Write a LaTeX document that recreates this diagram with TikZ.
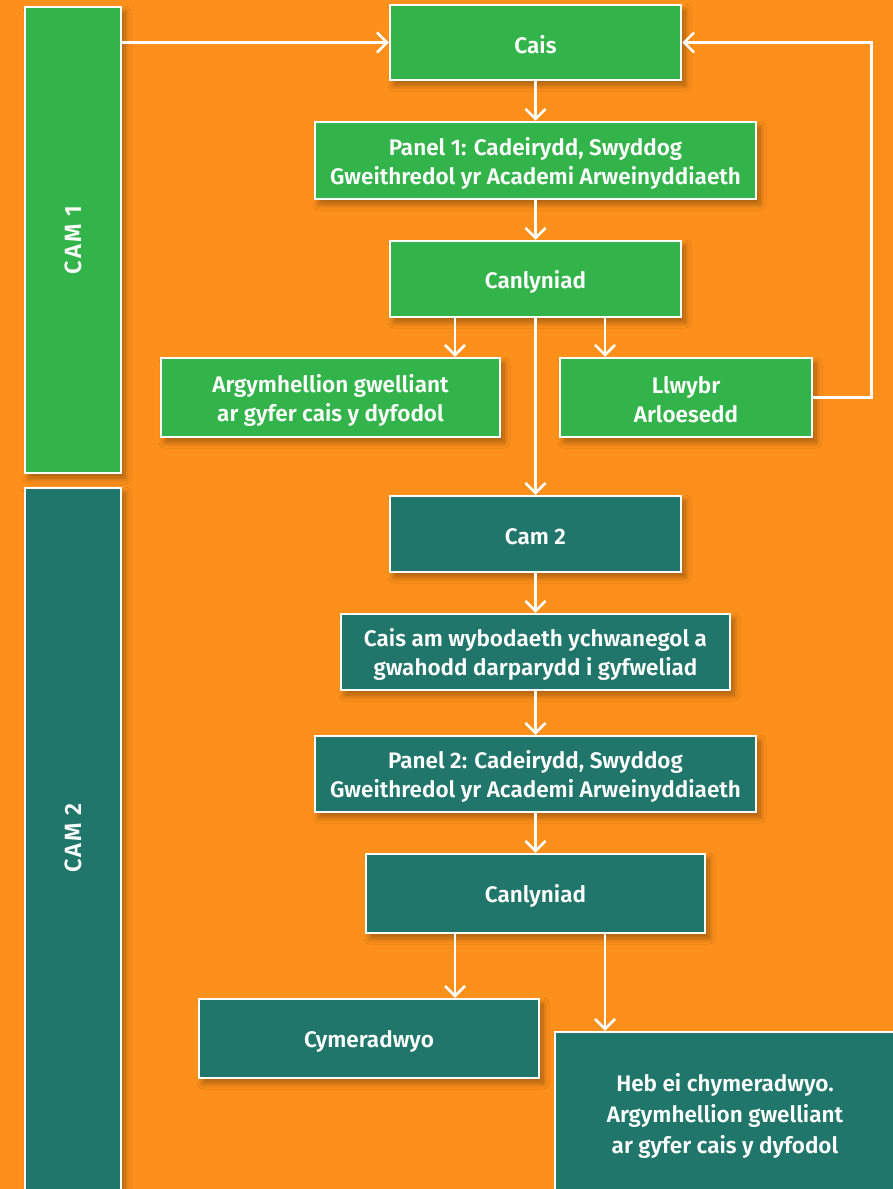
\documentclass[tikz,border=0pt]{standalone}
\usepackage{fontspec}
\setmainfont{Fira Sans SemiBold}
\usetikzlibrary{arrows.meta,shadows.blur}
\definecolor{bg}{RGB}{253,144,26}
\definecolor{gr}{RGB}{51,180,74}
\definecolor{tl}{RGB}{32,118,106}
\tikzset{
  bx/.style={draw=white,line width=2.5pt,inner sep=0pt,
    blur shadow={shadow xshift=4pt,shadow yshift=-5pt,shadow blur steps=10,shadow opacity=35,shadow blur radius=6pt}},
  grbox/.style={bx,fill=gr},
  tlbox/.style={bx,fill=tl},
  txt/.style={text=white,align=center,inner sep=0pt,font=\fontsize{22.5}{29}\selectfont},
  arr/.style={draw=white,line width=2.5pt,-{Straight Barb[length=10pt,width=20pt,line width=2.5pt]}},
  camtext/.style={rotate=90,text=white,font=\fontsize{23.5}{26}\selectfont\addfontfeature{LetterSpace=9}}
}
\begin{document}
\begin{tikzpicture}[x=1pt,y=-1pt]
\fill[bg] (0,0) rectangle (893,1189);
\useasboundingbox (0,0) rectangle (893,1189);
\clip (0,0) rectangle (893,1189);
% side bars
\node[grbox,minimum width=96pt,minimum height=466pt] (cam1) at (73,240) {};
\node[camtext] (cam1t) at (cam1) {CAM 1};
\node[tlbox,minimum width=96pt,minimum height=740pt] (cam2) at (73,858) {};
\node[camtext] (cam2t) at (73,838) {CAM 2};
% stage 1
\node[grbox,minimum width=291pt,minimum height=75pt] (cais) at (535.5,42.5) {};
\node[txt] (caist) at ([yshift=-2.5pt]cais) {Cais};
\node[grbox,minimum width=441pt,minimum height=77pt] (p1) at (535.5,160.5) {};
\node[txt] (p1t) at ([yshift=-2.5pt]p1) {Panel 1: Cadeirydd, Swyddog\\Gweithredol yr Academi Arweinyddiaeth};
\node[grbox,minimum width=291pt,minimum height=76pt] (can1) at (535.5,279) {};
\node[txt] (can1t) at ([yshift=-2.5pt]can1) {Canlyniad};
\node[grbox,minimum width=339pt,minimum height=79pt] (arg) at (330.5,397.5) {};
\node[txt] (argt) at ([yshift=-2.5pt]arg) {Argymhellion gwelliant\\ar gyfer cais y dyfodol};
\node[grbox,minimum width=252pt,minimum height=79pt] (ll) at (686,397.5) {};
\node[txt] (llt) at ([yshift=-2.5pt]ll) {Llwybr\\Arloesedd};
% stage 2
\node[tlbox,minimum width=291pt,minimum height=76pt] (c2) at (535.5,534) {};
\node[txt] (c2t) at ([yshift=-2.5pt]c2) {Cam 2};
\node[tlbox,minimum width=389pt,minimum height=76pt] (cam) at (535.5,652) {};
\node[txt] (camt) at ([yshift=-2.5pt]cam) {Cais am wybodaeth ychwanegol a\\gwahodd darparydd i gyfweliad};
\node[tlbox,minimum width=441pt,minimum height=76pt] (p2) at (535.5,774) {};
\node[txt] (p2t) at ([yshift=-2.5pt]p2) {Panel 2: Cadeirydd, Swyddog\\Gweithredol yr Academi Arweinyddiaeth};
\node[tlbox,minimum width=339pt,minimum height=79pt] (can2) at (535.5,893.5) {};
\node[txt] (can2t) at ([yshift=-2.5pt]can2) {Canlyniad};
\node[tlbox,minimum width=340pt,minimum height=79pt] (cym) at (369,1038.5) {};
\node[txt] (cymt) at ([yshift=-2.5pt]cym) {Cymeradwyo};
\node[tlbox,minimum width=340pt,minimum height=210pt] (heb) at (725,1137) {};
\node[txt,font=\fontsize{22.5}{31}\selectfont] (hebt) at (725,1115.5) {Heb ei chymeradwyo.\\Argymhellion gwelliant\\ar gyfer cais y dyfodol};
% connectors
\draw[arr] (cam1.east |- cais.west) -- (cais.west);
\draw[arr] (cais) -- (p1);
\draw[arr] (p1) -- (can1);
\draw[arr] ([xshift=-80.5pt]can1.south) -- ([xshift=-80.5pt]can1.south |- arg.north);
\draw[arr] ([xshift=69.5pt]can1.south) -- ([xshift=69.5pt]can1.south |- ll.north);
\draw[arr] (can1) -- (c2);
\draw[arr] (ll.east) -- ++(58,0) |- (cais.east);
\draw[arr] (c2) -- (cam);
\draw[arr] (cam) -- (p2);
\draw[arr] (p2) -- (can2);
\draw[arr] ([xshift=-80.5pt]can2.south) -- ([xshift=-80.5pt]can2.south |- cym.north);
\draw[arr] ([xshift=69.5pt]can2.south) -- ([xshift=69.5pt]can2.south |- heb.north);
\end{tikzpicture}
\end{document}
